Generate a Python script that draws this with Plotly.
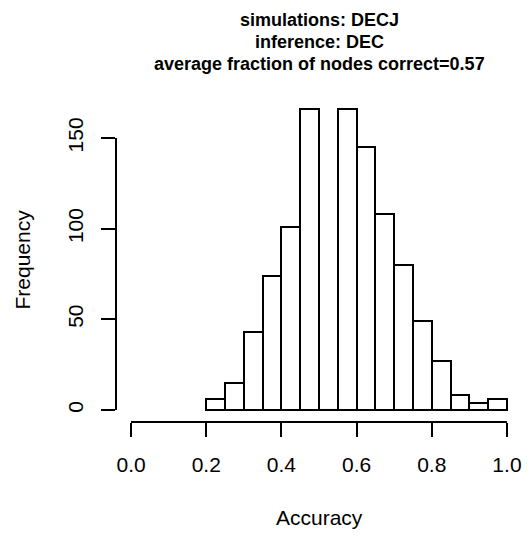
import plotly.graph_objects as go

# Histogram data (bins of width 0.05 from 0.20 to 1.00)
bin_left = [0.20, 0.25, 0.30, 0.35, 0.40, 0.45, 0.50, 0.55,
            0.60, 0.65, 0.70, 0.75, 0.80, 0.85, 0.90, 0.95]
counts = [6, 15, 43, 74, 101, 166, 0, 166, 145, 108, 80, 49, 27, 8, 4, 6]
bin_width = 0.05

x_ticks = [0.0, 0.2, 0.4, 0.6, 0.8, 1.0]
x_tick_labels = ["0.0", "0.2", "0.4", "0.6", "0.8", "1.0"]
y_ticks = [0, 50, 100, 150]
y_tick_labels = ["0", "50", "100", "150"]

title_lines = ["simulations: DECJ", "inference: DEC",
               "average fraction of nodes correct=0.57"]
x_title = "Accuracy"
y_title = "Frequency"

FONT = "Liberation Sans, Arial, Helvetica, sans-serif"
W, H = 528, 536
ML, MR, MT, MB = 116, 6, 97, 114
PW, PH = W - ML - MR, H - MT - MB

centers = [b + bin_width / 2 for b in bin_left]

fig = go.Figure()
fig.add_trace(go.Bar(
    x=centers, y=counts, width=[bin_width] * len(counts),
    marker=dict(color="white", line=dict(color="black", width=2)),
    hoverinfo="x+y", showlegend=False,
))

# R draws empty bins as a flat line on the baseline
zx, zy = [], []
for b, c in zip(bin_left, counts):
    if c == 0:
        zx += [b, b + bin_width, None]
        zy += [0, 0, None]
if zx:
    fig.add_trace(go.Scatter(x=zx, y=zy, mode="lines",
                             line=dict(color="black", width=2),
                             hoverinfo="skip", showlegend=False))

ymax = max(counts)
ypad = 0.04 * ymax
fig.update_layout(
    width=W, height=H,
    margin=dict(l=ML, r=MR, t=MT, b=MB),
    plot_bgcolor="white", paper_bgcolor="white",
    font=dict(family=FONT, color="black"),
    bargap=0,
    xaxis=dict(
        range=[-0.04, 1.04], showgrid=False, zeroline=False, showline=False,
        tickmode="array", tickvals=x_ticks, ticktext=x_tick_labels,
        ticks="outside", ticklen=14, tickwidth=2, tickcolor="black",
        tickfont=dict(size=21, family=FONT), ticklabelstandoff=10,
    ),
    yaxis=dict(
        range=[-ypad, ymax + ypad], showgrid=False, zeroline=False, showline=False,
        tickmode="array", tickvals=y_ticks, ticktext=y_tick_labels,
        ticks="outside", ticklen=14, tickwidth=2, tickcolor="black",
        tickangle=-90, tickfont=dict(size=21, family=FONT), ticklabelstandoff=10,
    ),
)

# R-style axis lines spanning first to last tick
fig.add_shape(type="line", xref="x", yref="paper",
              x0=x_ticks[0], x1=x_ticks[-1], y0=0, y1=0,
              line=dict(color="black", width=2))
fig.add_shape(type="line", xref="paper", yref="y",
              x0=0, x1=0, y0=y_ticks[0], y1=y_ticks[-1],
              line=dict(color="black", width=2))

# Title lines
title_y = [20, 42, 63.5]
for txt, ypx in zip(title_lines, title_y):
    fig.add_annotation(text="<b>" + txt + "</b>", xref="paper", yref="paper",
                       x=0.5, y=1 + (MT - ypx) / PH, xanchor="center",
                       yanchor="middle", showarrow=False,
                       font=dict(size=18, family=FONT, color="black"))

fig.add_annotation(text=x_title, xref="paper", yref="paper",
                   x=0.5, y=-(517 - (H - MB)) / PH,
                   xanchor="center", yanchor="middle", showarrow=False,
                   font=dict(size=21, family=FONT))
fig.add_annotation(text=y_title, xref="paper", yref="paper",
                   x=-(ML - 22) / PW, y=0.5,
                   xanchor="center", yanchor="middle", textangle=-90,
                   showarrow=False, font=dict(size=21, family=FONT))

fig.write_html("out.html")
